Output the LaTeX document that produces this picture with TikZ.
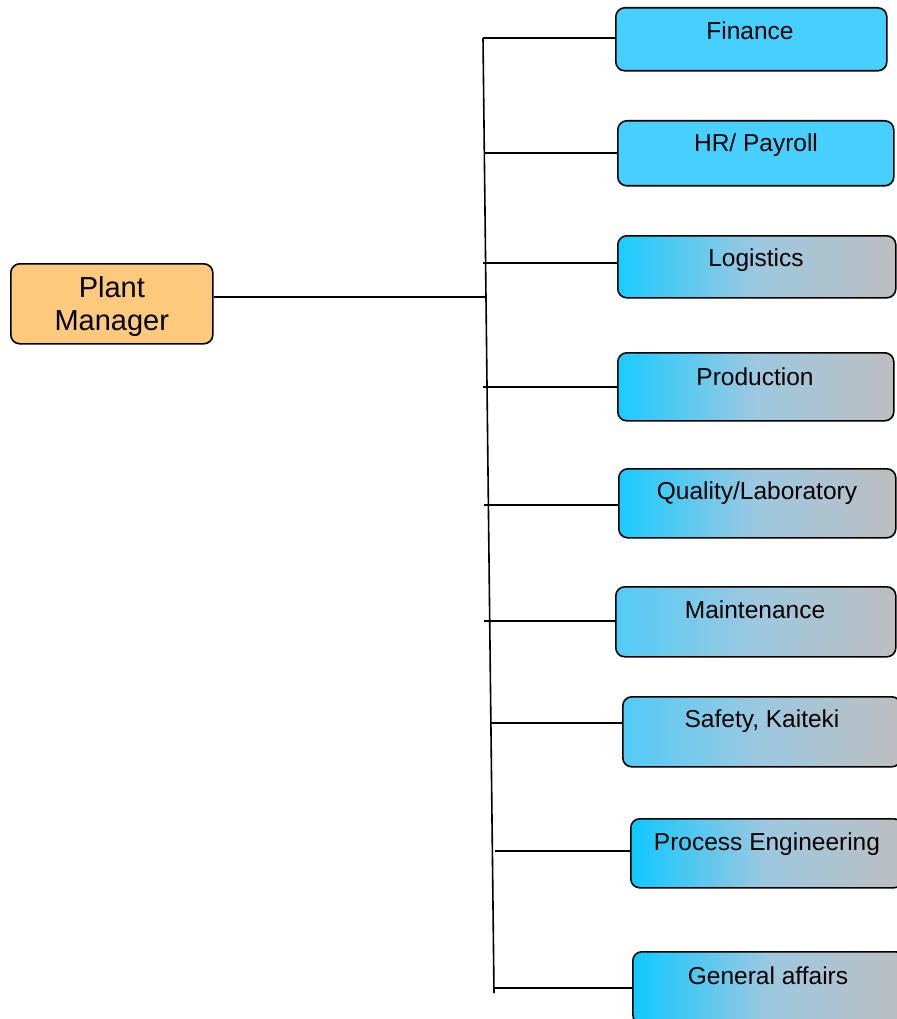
\documentclass[tikz,border=0pt]{standalone}
\usepackage{fontspec}
\setmainfont{Liberation Sans}
\usetikzlibrary{calc}
\definecolor{pmfill}{HTML}{FCC97D}
\definecolor{solidblue}{HTML}{47CFFF}
\definecolor{cyanA}{HTML}{1ACBFF}
\definecolor{cyanB}{HTML}{52CBF6}
\definecolor{cyanC}{HTML}{10C8FF}
\definecolor{midC}{HTML}{9DC8E0}
\definecolor{grayR}{HTML}{BDBEC0}
\pgfdeclarehorizontalshading{gshA}{100bp}{color(0bp)=(cyanA); color(25bp)=(cyanA); color(50bp)=(midC); color(75bp)=(grayR); color(100bp)=(grayR)}
\pgfdeclarehorizontalshading{gshB}{100bp}{color(0bp)=(cyanB); color(25bp)=(cyanB); color(50bp)=(midC); color(75bp)=(grayR); color(100bp)=(grayR)}
\pgfdeclarehorizontalshading{gshC}{100bp}{color(0bp)=(cyanC); color(25bp)=(cyanC); color(50bp)=(midC); color(75bp)=(grayR); color(100bp)=(grayR)}
\tikzset{
  unitbox/.style={draw=black, line width=1.6pt, rounded corners=9pt, inner sep=0pt, anchor=north west},
  solidbox/.style={unitbox, fill=solidblue},
  gradA/.style={unitbox, shading=gshA},
  gradB/.style={unitbox, shading=gshB},
  gradC/.style={unitbox, shading=gshC},
  boxtext/.style={font=\fontsize{24.5}{28}\selectfont, inner sep=0pt, anchor=center},
  conn/.style={draw=black, line width=1.6pt},
}
\begin{document}
\begin{tikzpicture}[x=1pt,y=-1pt]
\useasboundingbox (0,0) rectangle (896,1019);
% Plant manager
\node[unitbox, fill=pmfill, minimum width=202pt, minimum height=80pt] (pm) at (10,263) {};
\node[font=\fontsize{29}{33}\selectfont, align=center, inner sep=0pt] (pmt) at ($(pm.center)+(0,3)$) {Plant\\Manager};
% boxes
\node[solidbox, minimum width=271pt, minimum height=63pt] (b1) at (615,7) {};
\node[solidbox, minimum width=276pt, minimum height=65pt] (b2) at (617,120) {};
\node[gradA, minimum width=278pt, minimum height=62pt] (b3) at (617,235) {};
\node[gradA, minimum width=276pt, minimum height=68pt] (b4) at (617,352) {};
\node[gradA, minimum width=277pt, minimum height=69pt] (b5) at (618,468) {};
\node[gradB, minimum width=280pt, minimum height=70pt] (b6) at (615,586) {};
\node[gradB, minimum width=278pt, minimum height=70pt] (b7) at (622,696) {};
\node[gradC, minimum width=272pt, minimum height=69pt] (b8) at (630,818) {};
\node[gradC, minimum width=272pt, minimum height=72pt] (b9) at (632,951) {};
% texts
\node[boxtext] (t1) at (750,31) {Finance};
\node[boxtext] (t2) at (756,145) {HR/ Payroll};
\node[boxtext] (t3) at (756,260) {Logistics};
\node[boxtext] (t4) at (755,377) {Production};
\node[boxtext] (t5) at (757,493) {Quality/Laboratory};
\node[boxtext] (t6) at (755,610) {Maintenance};
\node[boxtext] (t7) at (762,721) {Safety, Kaiteki};
\node[boxtext] (t8) at (767,844) {Process Engineering};
\node[boxtext] (t9) at (768,976) {General affairs};
% trunk
\coordinate (top) at (483,38);
\coordinate (bot) at (494,993);
\draw[conn] (top) -- (bot);
\coordinate (j0) at (484.5,297);
\coordinate (j1) at (483,38);
\coordinate (j2) at (485,153);
\coordinate (j3) at (483,263);
\coordinate (j4) at (483,387);
\coordinate (j5) at (484,505);
\coordinate (j6) at (484,621);
\coordinate (j7) at (490,723);
\coordinate (j8) at (495,851);
\coordinate (j9) at (493,988);
\draw[conn] (j0 -| pm.east) -- (j0);
\foreach \i in {1,...,9} {
  \draw[conn] (j\i) -- (j\i -| b\i.west);
}
\end{tikzpicture}
\end{document}
